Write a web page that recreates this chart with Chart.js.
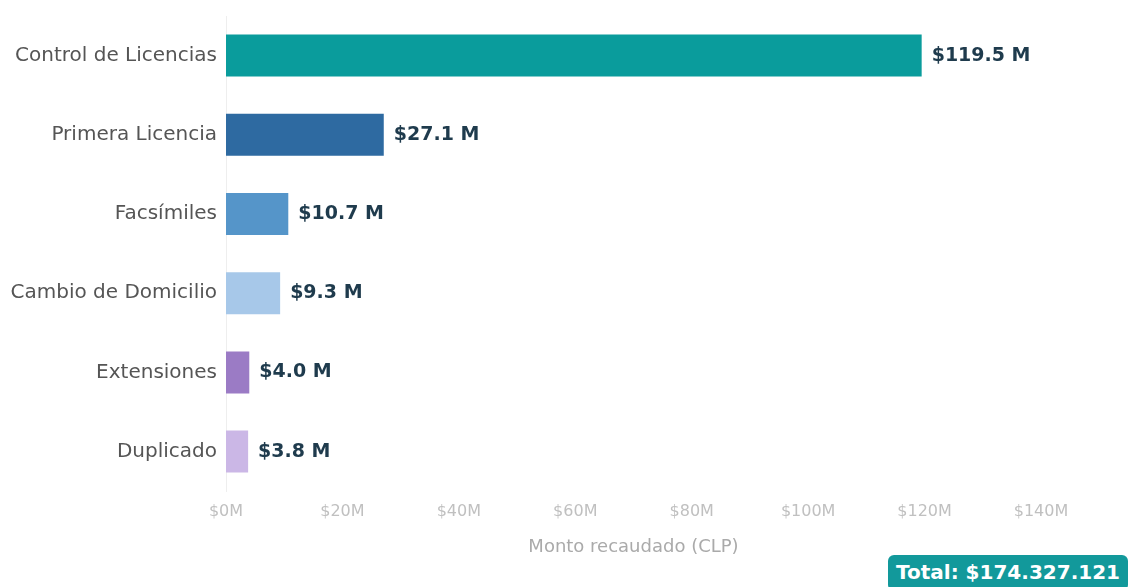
<!DOCTYPE html>
<html lang="es">
<head>
<meta charset="utf-8">
<title>Recaudación por trámite</title>
<script src="https://cdn.jsdelivr.net/npm/chart.js@4"></script>
<style>
  html, body { margin: 0; padding: 0; background: #fff; }
  .wrap { position: relative; width: 1130px; height: 587px; overflow: hidden; }
  .total {
    position: absolute; left: 888px; top: 555px; width: 240px; height: 36px;
    background: #12999b; color: #fff; border-radius: 6px;
    font: bold 20px "DejaVu Sans", sans-serif; line-height: 34px; text-align: center;
  }
</style>
</head>
<body>
<div class="wrap">
  <canvas id="recaudacion" width="1130" height="587"></canvas>
  <div class="total">Total: $174.327.121</div>
</div>
<script>
// Monto recaudado por tipo de trámite, en millones de CLP
const tramites = ['Control de Licencias', 'Primera Licencia', 'Facsímiles', 'Cambio de Domicilio', 'Extensiones', 'Duplicado'];
const montos = [119.5, 27.1, 10.7, 9.3, 4.0, 3.8];
const colores = ['#0a9c9c', '#2e6aa1', '#5595c9', '#a7c8e9', '#9b7bc5', '#cbb7e6'];
const ejeMax = 140;
const ejePaso = 20;

// etiqueta "$x.x M" al final de cada barra
const etiquetasValor = {
  id: 'etiquetasValor',
  afterDatasetsDraw(chart) {
    const ctx = chart.ctx;
    const meta = chart.getDatasetMeta(0);
    ctx.save();
    ctx.font = 'bold 19px "DejaVu Sans", sans-serif';
    ctx.fillStyle = '#1f3b4d';
    ctx.textAlign = 'left';
    ctx.textBaseline = 'middle';
    meta.data.forEach((bar, i) => {
      ctx.fillText('$' + montos[i].toFixed(1) + ' M', bar.x + 10, bar.y);
    });
    ctx.restore();
  }
};

new Chart(document.getElementById('recaudacion'), {
  type: 'bar',
  data: {
    labels: tramites,
    datasets: [{
      data: montos,
      backgroundColor: colores,
      borderWidth: 0,
      barPercentage: 0.53,
      categoryPercentage: 1
    }]
  },
  options: {
    indexAxis: 'y',
    responsive: false,
    animation: false,
    layout: { padding: { top: 16, right: 89, bottom: 26, left: 0 } },
    plugins: { legend: { display: false }, tooltip: { enabled: false } },
    scales: {
      y: {
        afterFit: (s) => { s.width = 226; s.paddingTop = 0; s.paddingBottom = 0; },
        grid: { display: false, drawTicks: false },
        border: { display: true, color: '#eeeeee' },
        ticks: { color: '#555', padding: 9, font: { family: 'DejaVu Sans', size: 20 } }
      },
      x: {
        min: 0,
        max: ejeMax,
        grid: { display: false, drawTicks: false },
        border: { display: false },
        ticks: {
          stepSize: ejePaso,
          padding: 11,
          color: '#c0c0c0',
          font: { family: 'DejaVu Sans', size: 16 },
          callback: (v) => '$' + v + 'M'
        },
        title: {
          display: true,
          text: 'Monto recaudado (CLP)',
          color: '#aaaaaa',
          padding: { top: 4, bottom: 3 },
          font: { family: 'DejaVu Sans', size: 18 }
        }
      }
    }
  },
  plugins: [etiquetasValor]
});
</script>
</body>
</html>
